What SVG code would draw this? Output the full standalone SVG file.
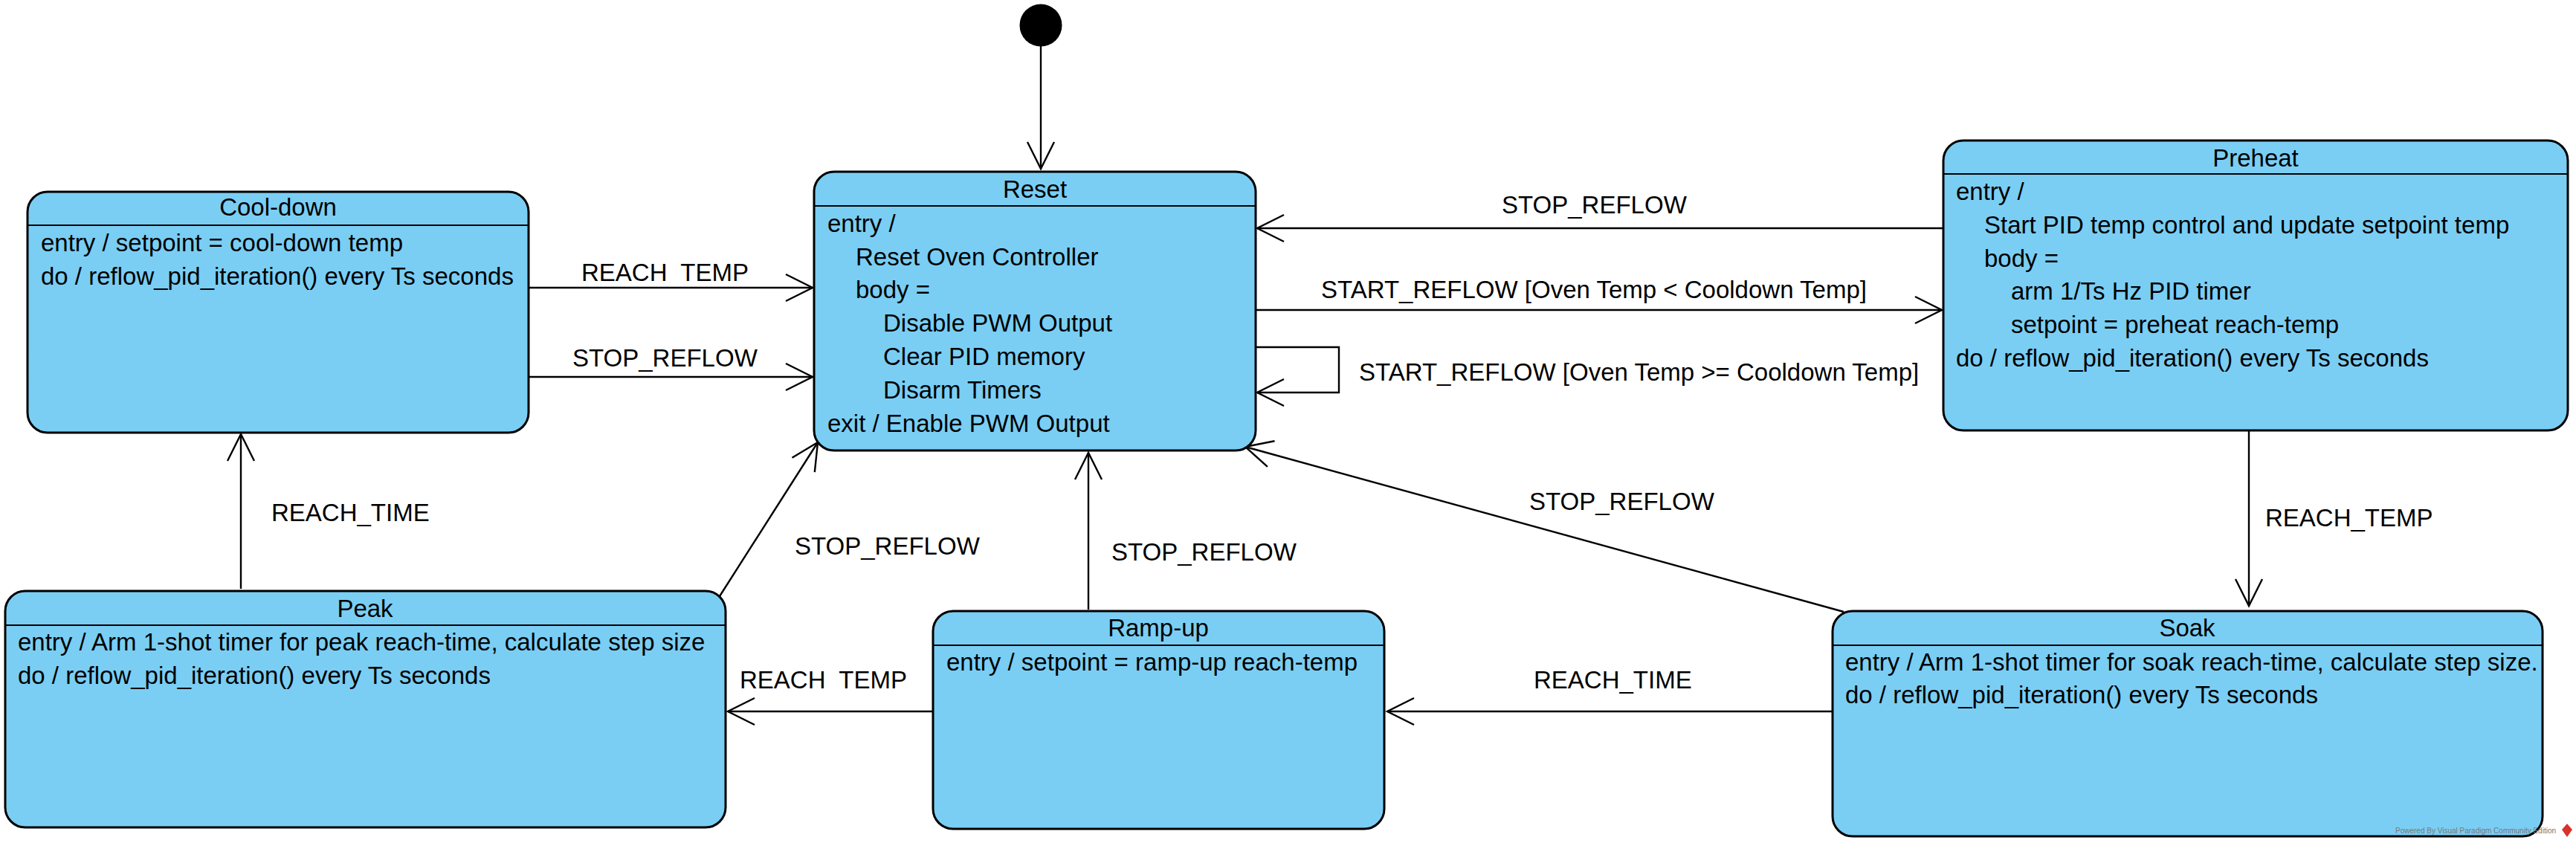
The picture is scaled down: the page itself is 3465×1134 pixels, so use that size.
<svg xmlns="http://www.w3.org/2000/svg" width="3465" height="1134" viewBox="0 0 3465 1134">
<style>
.bg{fill:#fff}
.st{fill:#7ACEF4;stroke:#000;stroke-width:3}
.dv{stroke:#000;stroke-width:2.2}
.t{font-family:"Liberation Sans",Arial,sans-serif;font-size:33px;fill:#000}
.c{text-anchor:middle}
.ln{fill:none;stroke:#000;stroke-width:2.4;marker-end:url(#arr)}
.lb{font-family:"Liberation Sans",Arial,sans-serif;font-size:33px;fill:#000;white-space:pre}
.wm{font-family:"Liberation Sans",Arial,sans-serif;font-size:10px;fill:#777}
</style>
<defs>
<marker id="arr" markerUnits="userSpaceOnUse" markerWidth="60" markerHeight="60" viewBox="-45 -30 60 60" refX="0" refY="0" orient="auto" overflow="visible">
<path d="M-36,-18 L0,0 L-36,18" fill="none" stroke="#000" stroke-width="2.4"/>
</marker>
</defs>
<rect class="bg" x="0" y="0" width="3465" height="1134"/>

<g id="connectors">
<path class="ln" d="M1400,62 V227"/>
<path class="ln" d="M711,387 H1093"/>
<text class="lb" x="782" y="378" xml:space="preserve">REACH  TEMP</text>
<path class="ln" d="M711,507 H1093"/>
<text class="lb" x="770" y="493">STOP_REFLOW</text>
<path class="ln" d="M324,792 V584"/>
<text class="lb" x="365" y="701">REACH_TIME</text>
<path class="ln" d="M968,802 L1100,595"/>
<text class="lb" x="1069" y="746">STOP_REFLOW</text>
<path class="ln" d="M1464,820 V609"/>
<text class="lb" x="1495" y="754">STOP_REFLOW</text>
<path class="ln" d="M2480,823 L1675,601"/>
<text class="lb" x="2057" y="686">STOP_REFLOW</text>
<path class="ln" d="M1255,957 H979"/>
<text class="lb" x="995" y="926" xml:space="preserve">REACH  TEMP</text>
<path class="ln" d="M2465,957 H1866"/>
<text class="lb" x="2063" y="926">REACH_TIME</text>
<path class="ln" d="M3025,579 V815"/>
<text class="lb" x="3047" y="708">REACH_TEMP</text>
<path class="ln" d="M2614,307 H1691"/>
<text class="lb" x="2020" y="287">STOP_REFLOW</text>
<path class="ln" d="M1689,417 H2612"/>
<text class="lb" x="1777" y="401">START_REFLOW [Oven Temp &lt; Cooldown Temp]</text>
<path class="ln" d="M1689,467 H1801 V528 H1691"/>
<text class="lb" x="1828" y="512">START_REFLOW [Oven Temp &gt;= Cooldown Temp]</text>
</g>

<g id="initial">
<circle cx="1400" cy="34" r="28.5" fill="#000"/>
</g>

<g id="cooldown">
<rect class="st" x="37" y="258" width="674" height="324" rx="27"/>
<line class="dv" x1="37" y1="303" x2="711" y2="303"/>
<text class="t c" x="374" y="290">Cool-down</text>
<text class="t" x="55" y="338">entry / setpoint = cool-down temp</text>
<text class="t" x="55" y="383">do / reflow_pid_iteration() every Ts seconds</text>
</g>

<g id="reset">
<rect class="st" x="1095" y="231" width="594" height="375" rx="27"/>
<line class="dv" x1="1095" y1="277" x2="1689" y2="277"/>
<text class="t c" x="1392" y="266">Reset</text>
<text class="t" x="1113" y="312">entry /</text>
<text class="t" x="1151" y="357">Reset Oven Controller</text>
<text class="t" x="1151" y="401">body =</text>
<text class="t" x="1188" y="446">Disable PWM Output</text>
<text class="t" x="1188" y="491">Clear PID memory</text>
<text class="t" x="1188" y="536">Disarm Timers</text>
<text class="t" x="1113" y="581">exit / Enable PWM Output</text>
</g>

<g id="preheat">
<rect class="st" x="2614" y="189" width="840" height="390" rx="27"/>
<line class="dv" x1="2614" y1="234" x2="3454" y2="234"/>
<text class="t c" x="3034" y="224">Preheat</text>
<text class="t" x="2631" y="269">entry /</text>
<text class="t" x="2669" y="314">Start PID temp control and update setpoint temp</text>
<text class="t" x="2669" y="359">body =</text>
<text class="t" x="2705" y="403">arm 1/Ts Hz PID timer</text>
<text class="t" x="2705" y="448">setpoint = preheat reach-temp</text>
<text class="t" x="2631" y="493">do / reflow_pid_iteration() every Ts seconds</text>
</g>

<g id="peak">
<rect class="st" x="7" y="795" width="969" height="318" rx="27"/>
<line class="dv" x1="7" y1="841" x2="976" y2="841"/>
<text class="t c" x="491" y="830">Peak</text>
<text class="t" x="24" y="875">entry / Arm 1-shot timer for peak reach-time, calculate step size</text>
<text class="t" x="24" y="920">do / reflow_pid_iteration() every Ts seconds</text>
</g>

<g id="rampup">
<rect class="st" x="1255" y="822" width="607" height="293" rx="27"/>
<line class="dv" x1="1255" y1="868" x2="1862" y2="868"/>
<text class="t c" x="1558" y="856">Ramp-up</text>
<text class="t" x="1273" y="902">entry / setpoint = ramp-up reach-temp</text>
</g>

<g id="soak">
<rect class="st" x="2465" y="822" width="955" height="303" rx="27"/>
<line class="dv" x1="2465" y1="868" x2="3420" y2="868"/>
<text class="t c" x="2942" y="856">Soak</text>
<text class="t" x="2482" y="902">entry / Arm 1-shot timer for soak reach-time, calculate step size.</text>
<text class="t" x="2482" y="946">do / reflow_pid_iteration() every Ts seconds</text>
</g>

<g id="watermark">
<text class="wm" x="3222" y="1121">Powered By Visual Paradigm Community Edition</text>
<path d="M3453,1108 L3460,1116 L3453,1126 L3446,1116 Z" fill="#d9322b"/>
</g>
</svg>
